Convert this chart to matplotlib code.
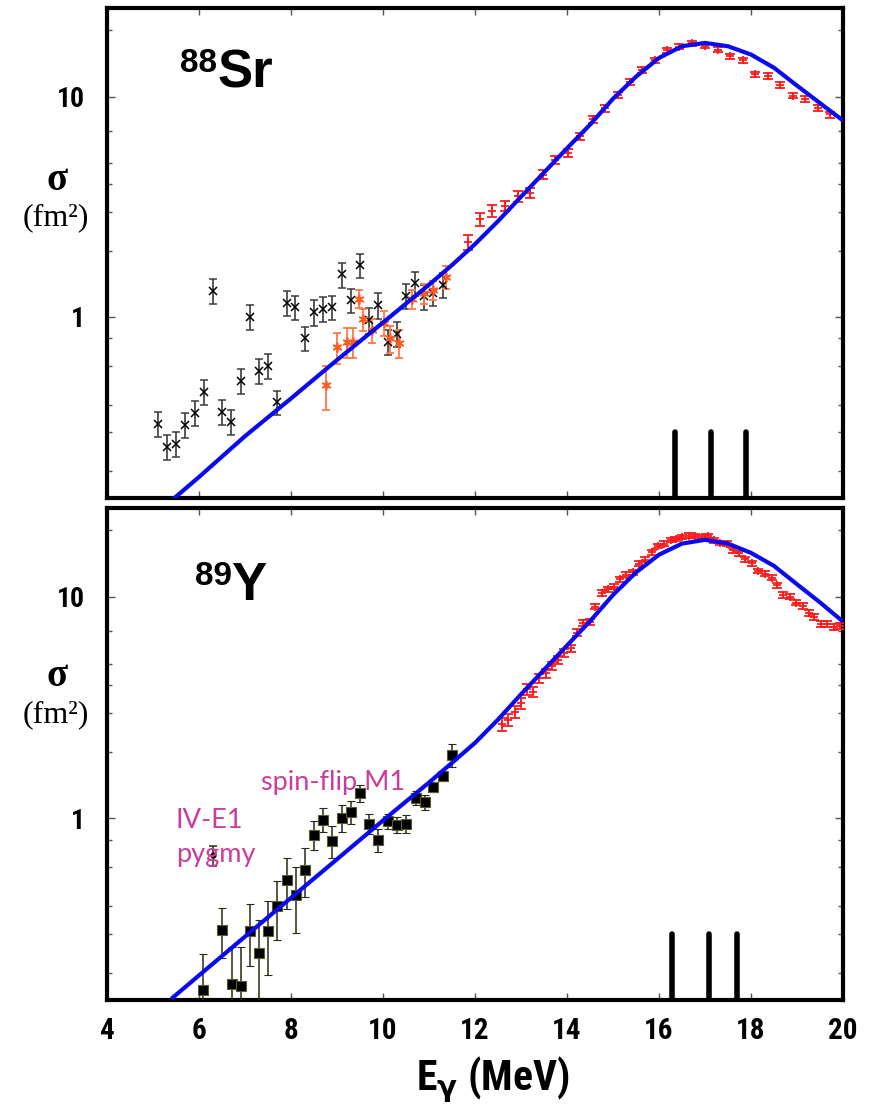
import matplotlib
matplotlib.use("Agg")
import matplotlib.pyplot as plt
from matplotlib import font_manager as fm

# ---------------- data ----------------
# theory curves (blue)
curve_E = [5.40, 6.0, 7.0, 8.0, 9.0, 10.0, 11.0, 11.5, 12.0, 12.5, 13.0, 13.5, 14.0,
           14.5, 15.0, 15.5, 16.0, 16.5, 17.0, 17.5, 18.0, 18.5, 19.0, 19.5, 20.0]
curve_sr = [0.147, 0.188, 0.288, 0.427, 0.638, 0.944, 1.40, 1.72, 2.14, 2.72, 3.51, 4.52, 5.82,
            7.45, 9.77, 12.3, 14.96, 16.9, 17.5, 16.9, 15.5, 13.5, 11.2, 9.33, 7.78]
curve_y = [0.153, 0.195, 0.292, 0.437, 0.653, 0.977, 1.45, 1.78, 2.19, 2.79, 3.63, 4.68, 6.03,
           7.76, 10.2, 12.9, 15.5, 17.4, 18.1, 17.4, 15.8, 13.8, 11.4, 9.44, 7.73]

# 88Sr low-energy data (black crosses)
sr_x_E = [5.10, 5.30, 5.50, 5.70, 5.91, 6.11, 6.30, 6.51, 6.70, 6.91, 7.11, 7.31, 7.51, 7.70,
          7.91, 8.09, 8.30, 8.50, 8.70, 8.90, 9.10, 9.30, 9.50, 9.70, 9.90, 10.10, 10.30,
          10.50, 10.70, 10.89, 11.09, 11.30]
sr_x_val = [0.328, 0.258, 0.266, 0.325, 0.368, 0.458, 1.31, 0.371, 0.335, 0.513, 1.00, 0.570,
            0.600, 0.411, 1.16, 1.11, 0.80, 1.05, 1.09, 1.11, 1.56, 1.19, 1.72, 0.97, 1.13,
            0.77, 0.84, 1.25, 1.42, 1.24, 1.29, 1.40]
sr_x_err = [0.043, 0.034, 0.035, 0.042, 0.048, 0.060, 0.17, 0.048, 0.044, 0.067, 0.13, 0.074,
            0.078, 0.053, 0.15, 0.14, 0.10, 0.14, 0.14, 0.14, 0.20, 0.15, 0.22, 0.13, 0.15,
            0.10, 0.11, 0.16, 0.18, 0.16, 0.17, 0.18]

# 88Sr second data set (orange asterisks)
sr_o_E = [8.77, 9.00, 9.22, 9.34, 9.47, 9.56, 9.77, 10.02, 10.15, 10.35, 10.62, 10.90, 11.09, 11.38]
sr_o_val = [0.49, 0.73, 0.77, 0.77, 1.21, 0.976, 0.87, 0.94, 0.80, 0.76, 1.21, 1.28, 1.33, 1.52]
sr_o_err = [0.11, 0.12, 0.12, 0.12, 0.11, 0.11, 0.11, 0.12, 0.11, 0.11, 0.12, 0.13, 0.13, 0.18]

# 88Sr GDR data (red)
sr_r_E = [11.84, 12.11, 12.38, 12.65, 12.93, 13.20, 13.47, 13.74, 14.02, 14.28, 14.56, 14.83,
          15.10, 15.37, 15.64, 15.91, 16.17, 16.44, 16.71, 17.00, 17.28, 17.54, 17.82, 18.09,
          18.36, 18.63, 18.91, 19.17, 19.45, 19.72]
sr_r_val = [2.19, 2.78, 3.03, 3.19, 3.54, 3.66, 4.42, 5.17, 5.56, 6.61, 7.87, 8.85, 10.2, 11.6,
            13.2, 14.6, 16.2, 16.8, 17.4, 17.0, 16.3, 15.2, 14.6, 12.6, 12.4, 11.3, 10.1, 9.77,
            8.89, 8.29]
sr_r_err = [0.17, 0.19, 0.19, 0.18, 0.20, 0.18, 0.20, 0.22, 0.22, 0.25, 0.28, 0.30, 0.33, 0.36,
            0.40, 0.42, 0.45, 0.46, 0.47, 0.46, 0.45, 0.42, 0.41, 0.36, 0.35, 0.33, 0.30, 0.29,
            0.27, 0.26]

# 89Y low-energy data (black squares)
y_s_E = [6.09, 6.51, 6.71, 6.91, 7.11, 7.30, 7.50, 7.70, 7.91, 8.10, 8.30, 8.50, 8.70, 8.90,
         9.10, 9.30, 9.50, 9.70, 9.90, 10.10, 10.30, 10.50, 10.71, 10.91, 11.09, 11.30, 11.49]
y_s_val = [0.167, 0.313, 0.179, 0.175, 0.311, 0.247, 0.309, 0.401, 0.524, 0.452, 0.586, 0.844,
           0.987, 0.789, 1.007, 1.07, 1.30, 0.946, 0.80, 0.97, 0.936, 0.946, 1.24, 1.18, 1.39,
           1.55, 1.93]
y_s_err = [0.076, 0.080, 0.082, 0.088, 0.097, 0.099, 0.114, 0.119, 0.135, 0.15, 0.147, 0.126,
           0.12, 0.13, 0.138, 0.124, 0.113, 0.10, 0.096, 0.08, 0.08, 0.09, 0.09, 0.09, 0.07,
           0.08, 0.23]
y_dot_E = [6.31]
y_dot_val = [0.68]
y_dot_err = [0.07]

# 89Y GDR data (red)
y_r_E = [12.58, 12.72, 12.87, 13.00, 13.14, 13.27, 13.40, 13.54, 13.68, 13.81, 13.94, 14.08,
         14.21, 14.34, 14.49, 14.61, 14.75, 14.90, 15.02, 15.15, 15.28, 15.43, 15.57, 15.70,
         15.84, 15.98, 16.11, 16.25, 16.38, 16.51, 16.65, 16.78, 16.93, 17.07, 17.20, 17.33,
         17.47, 17.60, 17.74, 17.88, 18.03, 18.16, 18.30, 18.45, 18.57, 18.70, 18.85, 18.98,
         19.12, 19.25, 19.38, 19.52, 19.65, 19.80, 19.93]
y_r_val = [2.66, 2.78, 3.03, 3.30, 3.82, 3.73, 4.29, 4.52, 4.87, 5.19, 5.60, 5.86, 6.89, 7.60,
           7.73, 9.04, 10.4, 10.8, 11.1, 12.0, 12.6, 12.9, 14.1, 14.7, 15.9, 17.0, 17.4, 18.1,
           18.3, 18.6, 18.9, 18.8, 18.6, 18.8, 18.0, 17.5, 17.4, 16.2, 15.7, 14.8, 14.2, 13.1,
           12.7, 12.2, 11.3, 10.2, 10.0, 9.42, 9.10, 8.43, 8.09, 7.52, 7.52, 7.29, 7.39]
y_r_err = [0.18, 0.18, 0.19, 0.19, 0.20, 0.20, 0.21, 0.21, 0.22, 0.22, 0.23, 0.23, 0.24, 0.25,
           0.25, 0.27, 0.29, 0.29, 0.30, 0.31, 0.32, 0.33, 0.35, 0.36, 0.38, 0.40, 0.40, 0.42,
           0.42, 0.43, 0.43, 0.43, 0.43, 0.43, 0.42, 0.41, 0.41, 0.39, 0.38, 0.36, 0.35, 0.33,
           0.32, 0.31, 0.30, 0.28, 0.27, 0.26, 0.26, 0.25, 0.24, 0.23, 0.23, 0.22, 0.22]

# vertical bars (peak positions)
sr_bars = [16.35, 17.13, 17.89]
y_bars = [16.28, 17.09, 17.70]
bar_top = 0.30

x_ticks = [4, 6, 8, 10, 12, 14, 16, 18, 20]
y_major = [1, 10]
y_minor = [0.2, 0.3, 0.4, 0.6, 0.8, 2, 3, 4, 5, 7, 20]

# ---------------- fonts ----------------
entries = fm.fontManager.ttflist
names = {f.name for f in entries}
cond_stretch = ("condensed", "semi-condensed", "extra-condensed", "ultra-condensed")
narrow_props = None
for nm in ("Liberation Sans Narrow", "Arial Narrow", "Roboto Condensed", "Open Sans Condensed"):
    if nm in names:
        narrow_props = dict(fontfamily=nm)
        break
if narrow_props is None:
    for f in entries:
        st = str(f.stretch).lower()
        if (st in cond_stretch or (isinstance(f.stretch, int) and f.stretch < 500)) \
                and f.name in ("DejaVu Sans", "Roboto", "Open Sans", "Noto Sans", "Liberation Sans"):
            narrow_props = dict(fontfamily=f.name, fontstretch="condensed")
            break
is_narrow = narrow_props is not None
if narrow_props is None:
    narrow_props = dict(fontfamily="Liberation Sans")

tick_fs_y = 20 if is_narrow else 18
tick_fs_x = 21 if is_narrow else 19
xlabel_fs = 30 if is_narrow else 26

# ---------------- figure ----------------
fig = plt.figure(figsize=(8.73, 11.04), dpi=100)
left, width = 107 / 873, 736 / 873
ax1 = fig.add_axes([left, 1 - 498 / 1104, width, 490 / 1104])
ax2 = fig.add_axes([left, 1 - 1000 / 1104, width, 492 / 1104])

BLUE = "#0a0af0"
RED = "#ff1a1a"

for ax in (ax1, ax2):
    ax.set_yscale("log")
    ax.set_xlim(4, 20)
    ax.set_ylim(0.151, 25.2)
    ax.set_xticks(x_ticks)
    ax.set_yticks(y_major)
    ax.set_yticks(y_minor, minor=True)
    ax.set_yticklabels([str(v) for v in y_major], fontweight="bold", fontsize=tick_fs_y,
                       **narrow_props)
    ax.yaxis.set_minor_formatter(matplotlib.ticker.NullFormatter())
    ax.tick_params(axis="both", which="both", direction="in", top=True, right=True,
                   color="#555555", width=1)
    ax.tick_params(axis="y", which="major", length=6, pad=16)
    ax.tick_params(axis="y", which="minor", length=3.5)
    ax.tick_params(axis="x", which="major", length=5, pad=12)
    for s in ax.spines.values():
        s.set_linewidth(3)
        s.set_color("black")

ax1.tick_params(axis="x", labelbottom=False)
ax2.set_xticklabels([str(v) for v in x_ticks], fontweight="bold", fontsize=tick_fs_x,
                    **narrow_props)

# ---- top panel: 88Sr ----
ax1.errorbar(sr_x_E, sr_x_val, yerr=sr_x_err, fmt="x", color="black", ms=5.5, mew=1.1,
             ecolor="#3a3a3a", elinewidth=1.2, capsize=3, capthick=1.2, zorder=3)
ax1.errorbar(sr_o_E, sr_o_val, yerr=sr_o_err, fmt="none", ecolor="#ff7a45",
             elinewidth=1.3, capsize=3, capthick=1.3, zorder=3)
ax1.plot(sr_o_E, sr_o_val, ls="none", marker=(6, 2, 0), color="#ff5a1f", ms=7, mew=1.2, zorder=4)
ax1.errorbar(sr_r_E, sr_r_val, yerr=sr_r_err, fmt="+", color=RED, ms=6, mew=1.3,
             ecolor=RED, elinewidth=1.2, capsize=3.5, capthick=1.2, zorder=3)
ax1.plot(curve_E, curve_sr, color=BLUE, lw=3, zorder=5, solid_capstyle="butt",
         solid_joinstyle="round")
lc = ax1.vlines(sr_bars, 0.05, bar_top, colors="black", lw=4, zorder=6)
lc.set_capstyle("round")

ax1.text(0.099, 0.869, "88", transform=ax1.transAxes, fontsize=24, fontweight="bold",
         fontfamily="Liberation Sans", va="baseline", ha="left")
ax1.text(0.150, 0.837, "Sr", transform=ax1.transAxes, fontsize=38, fontweight="bold",
         fontfamily="Liberation Sans", va="baseline", ha="left")

# ---- bottom panel: 89Y ----
ax2.errorbar(y_s_E, y_s_val, yerr=y_s_err, fmt="s", color="black", ms=6.5, mec="#5a5a2a",
             mew=0.8, ecolor="#2a2a14", elinewidth=1.1, capsize=3, capthick=1.1, zorder=3)
ax2.errorbar(y_dot_E, y_dot_val, yerr=y_dot_err, fmt="o", color="black", ms=3.5,
             ecolor="#2a2a14", elinewidth=1.1, capsize=3, capthick=1.1, zorder=3)
ax2.errorbar(y_r_E, y_r_val, yerr=y_r_err, fmt="+", color=RED, ms=6, mew=1.3,
             ecolor=RED, elinewidth=1.2, capsize=3.5, capthick=1.2, zorder=3)
ax2.plot(curve_E, curve_y, color=BLUE, lw=3, zorder=5, solid_capstyle="butt",
         solid_joinstyle="round")
lc2 = ax2.vlines(y_bars, 0.05, bar_top, colors="black", lw=4, zorder=6)
lc2.set_capstyle("round")

ax2.text(0.120, 0.843, "89", transform=ax2.transAxes, fontsize=24, fontweight="bold",
         fontfamily="Liberation Sans", va="baseline", ha="left")
ax2.text(0.168, 0.813, "Y", transform=ax2.transAxes, fontsize=38, fontweight="bold",
         fontfamily="Liberation Sans", va="baseline", ha="left")

MAG = "#cc3d99"
fig.text(261 / 873, 1 - 790 / 1104, "spin-flip M1", color=MAG, fontsize=19.5, fontfamily="Lato",
         va="baseline", ha="left")
fig.text(176 / 873, 1 - 828 / 1104, "IV-E1", color=MAG, fontsize=19.5, fontfamily="Lato",
         va="baseline", ha="left")
fig.text(176 / 873, 1 - 862 / 1104, "pygmy", color=MAG, fontsize=19.5, fontfamily="Lato",
         va="baseline", ha="left")

# y labels
for yc_sig, yc_fm in ((180, 218), (677, 715)):
    fig.text(57 / 873, 1 - yc_sig / 1104, "σ", fontsize=28, fontweight="bold",
             fontfamily="Liberation Serif", ha="center", va="center")
    fig.text(56 / 873, 1 - yc_fm / 1104, "(fm²)", fontsize=23,
             fontfamily="Liberation Serif", ha="center", va="center")

# x label
fig.text(493 / 873, 1 - 1080 / 1104, r"E$_{\mathbf{\gamma}}$ (MeV)", fontsize=xlabel_fs,
         fontweight="bold", ha="center", va="center", **narrow_props)

fig.savefig("out.png", dpi=100)
